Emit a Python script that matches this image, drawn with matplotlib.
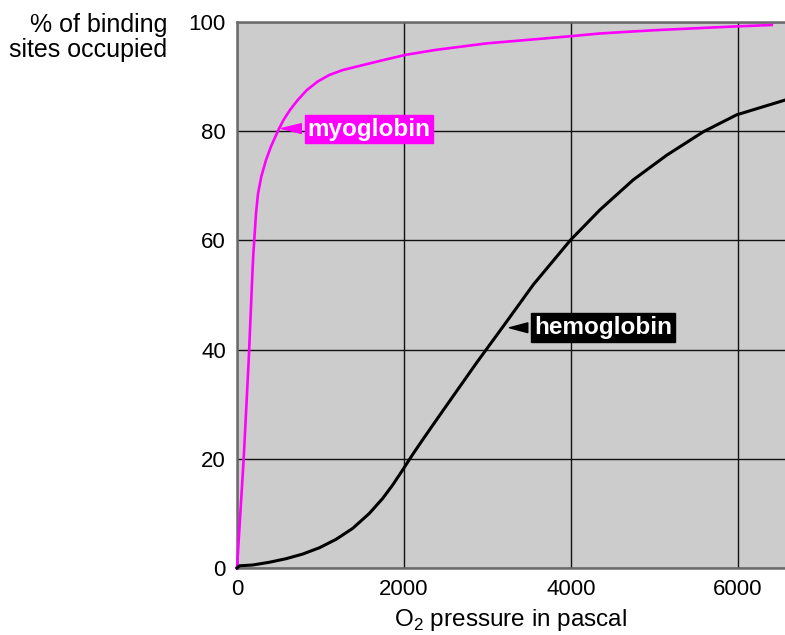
import matplotlib.pyplot as plt

plt.rcParams['font.family'] = ['Liberation Sans', 'DejaVu Sans']
plt.rcParams['mathtext.fontset'] = 'custom'
plt.rcParams['mathtext.rm'] = 'Liberation Sans'

# oxygen binding curves (pressure in Pa, % sites occupied)
myo_p = [0, 80, 140, 188, 196, 212, 228, 252, 291, 347, 407, 495, 555, 635,
         727, 834, 966, 1106, 1266, 1505, 1745, 2024, 2383, 3000, 4000, 4347,
         5000, 5984, 6404]
myo_sat = [0, 20, 38, 55.2, 57.6, 61.3, 65.0, 68.6, 71.7, 74.7, 77.2, 80.2,
           82.0, 83.9, 85.7, 87.5, 89.1, 90.3, 91.2, 92.1, 93.0, 94.0, 94.9,
           96.1, 97.4, 97.9, 98.5, 99.2, 99.45]

hb_p = [0, 28, 188, 387, 587, 786, 986, 1186, 1385, 1585, 1745, 1864, 1984,
        2104, 2224, 2383, 2571, 2870, 3190, 3549, 3996, 4347, 4746, 5146,
        5585, 5984, 6563]
hb_sat = [0, 0.4, 0.55, 1.05, 1.7, 2.55, 3.7, 5.25, 7.25, 10.0, 12.75, 15.2,
          17.95, 20.8, 23.5, 27.0, 31.1, 37.6, 44.3, 51.9, 60.1, 65.6, 71.1,
          75.6, 79.9, 83.0, 85.7]

x_ticks = [0, 2000, 4000, 6000]
y_ticks = [0, 20, 40, 60, 80, 100]

fig = plt.figure(figsize=(7.85, 6.35), dpi=100)
ax = fig.add_axes([237 / 785, 1 - 568 / 635, 1 - 237 / 785, (568 - 22) / 635])
ax.set_facecolor('#cccccc')

ax.set_xlim(0, 6563)
ax.set_ylim(0, 100)
ax.set_xticks(x_ticks)
ax.set_yticks(y_ticks)
ax.tick_params(length=0, labelsize=16)
ax.tick_params(axis='y', pad=8)
ax.tick_params(axis='x', pad=8)
ax.grid(True, color='#111111', linewidth=1.0)
ax.set_axisbelow(True)

for side in ['left', 'top', 'bottom']:
    ax.spines[side].set_color('#6b6b6b')
    ax.spines[side].set_linewidth(1.8)
ax.spines['right'].set_visible(False)

ax.plot(myo_p, myo_sat, color='#ff00ff', linewidth=1.9, clip_on=False,
        solid_joinstyle='round', zorder=3)
ax.plot(hb_p, hb_sat, color='black', linewidth=2.2, clip_on=False,
        solid_joinstyle='round', zorder=3)

ax.annotate('myoglobin', xy=(500, 80.5), xytext=(1581, 80.4),
            ha='center', va='center', color='white', fontsize=17.5,
            fontweight='bold',
            bbox=dict(boxstyle='square,pad=0.12', fc='#ff00ff', ec='#ff00ff'),
            arrowprops=dict(arrowstyle='wedge,tail_width=0.4,shrink_factor=0.5',
                            fc='#ff00ff', ec='#ff00ff'),
            zorder=4)
ax.annotate('hemoglobin', xy=(3230, 44.0), xytext=(4383, 44.0),
            ha='center', va='center', color='white', fontsize=17.5,
            fontweight='bold',
            bbox=dict(boxstyle='square,pad=0.12', fc='black', ec='black'),
            arrowprops=dict(arrowstyle='wedge,tail_width=0.4,shrink_factor=0.5',
                            fc='black', ec='black'),
            zorder=4)

ax.set_xlabel('O$_2$ pressure in pascal', fontsize=17.5, labelpad=5)
fig.text(167 / 785, 1 - 13 / 635, '% of binding\nsites occupied',
         ha='right', va='top', fontsize=18, linespacing=1.05)

fig.savefig('out.png', dpi=100)
